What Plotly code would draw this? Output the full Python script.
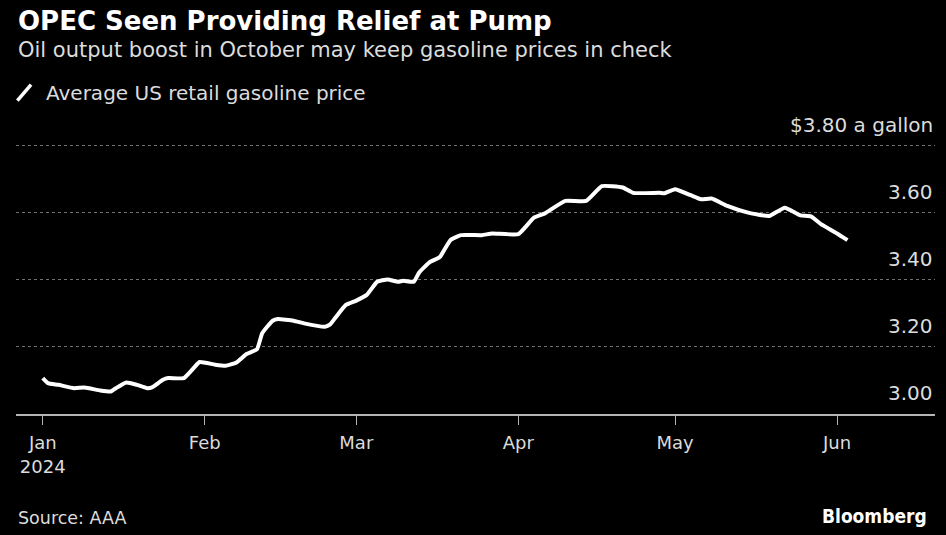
import plotly.graph_objects as go

# =========================
# DATA
# =========================

dates = [
    "2024-01-01", "2024-01-02", "2024-01-04", "2024-01-07", "2024-01-09",
    "2024-01-12", "2024-01-14", "2024-01-15", "2024-01-17", "2024-01-19",
    "2024-01-21", "2024-01-22", "2024-01-24", "2024-01-25", "2024-01-28",
    "2024-01-30", "2024-01-31", "2024-02-03", "2024-02-05", "2024-02-07",
    "2024-02-09", "2024-02-11", "2024-02-12", "2024-02-14", "2024-02-15",
    "2024-02-18", "2024-02-20", "2024-02-24", "2024-02-25", "2024-02-26",
    "2024-02-28", "2024-03-01", "2024-03-03", "2024-03-05", "2024-03-07",
    "2024-03-09", "2024-03-10", "2024-03-12", "2024-03-13", "2024-03-15",
    "2024-03-17", "2024-03-19", "2024-03-21", "2024-03-25", "2024-03-27",
    "2024-04-01", "2024-04-04", "2024-04-06", "2024-04-10", "2024-04-14",
    "2024-04-17", "2024-04-21", "2024-04-23", "2024-04-28", "2024-04-29",
    "2024-05-01", "2024-05-04", "2024-05-06", "2024-05-08", "2024-05-11",
    "2024-05-15", "2024-05-19", "2024-05-22", "2024-05-25", "2024-05-27",
    "2024-05-29", "2024-06-01", "2024-06-03",
]

gas_price = [
    3.107, 3.092, 3.087, 3.077, 3.079,
    3.070, 3.067, 3.077, 3.094, 3.087,
    3.077, 3.080, 3.102, 3.107, 3.107,
    3.139, 3.155, 3.147, 3.144, 3.153,
    3.179, 3.193, 3.241, 3.278, 3.283,
    3.278, 3.270, 3.260, 3.267, 3.287,
    3.325, 3.338, 3.355, 3.394, 3.401,
    3.394, 3.397, 3.394, 3.421, 3.452,
    3.468, 3.518, 3.533, 3.533, 3.538,
    3.536, 3.585, 3.597, 3.635, 3.635,
    3.679, 3.675, 3.659, 3.659, 3.658,
    3.670, 3.652, 3.640, 3.642, 3.620,
    3.600, 3.590, 3.615, 3.592, 3.589,
    3.565, 3.538, 3.518,
]

month_ticks = ["2024-01-01", "2024-02-01", "2024-03-01", "2024-04-01", "2024-05-01", "2024-06-01"]
month_labels = ["Jan<br>2024", "Feb", "Mar", "Apr", "May", "Jun"]

price_ticks = [3.0, 3.2, 3.4, 3.6, 3.8]
price_labels = ["3.00", "3.20", "3.40", "3.60", "$3.80 a gallon"]

# =========================
# THEME
# =========================

BG = "#000000"
TEXT = "#dcdcdc"
GRID = "#707070"
AXIS = "#b4b4b4"
FONT = "DejaVu Sans, Arial, sans-serif"

# =========================
# FIGURE
# =========================

fig = go.Figure()

fig.add_trace(
    go.Scatter(
        x=dates,
        y=gas_price,
        mode="lines",
        name="Average US retail gasoline price",
        line=dict(color="#ffffff", width=4, shape="spline", smoothing=0.4),
        showlegend=False,
    )
)

fig.update_layout(
    width=946,
    height=535,
    paper_bgcolor=BG,
    plot_bgcolor=BG,
    font=dict(family=FONT, color=TEXT, size=18),
    margin=dict(l=16, r=11, t=111.5, b=120.7),
    xaxis=dict(
        range=["2023-12-26 21:00", "2024-06-19 18:00"],
        tickvals=month_ticks,
        ticktext=month_labels,
        showgrid=False,
        showline=True,
        linecolor=AXIS,
        linewidth=1.5,
        ticks="outside",
        ticklen=9,
        tickwidth=1,
        tickcolor=AXIS,
        ticklabelstandoff=3,
        tickfont=dict(size=18, color=TEXT),
        zeroline=False,
    ),
    yaxis=dict(
        range=[3.0, 3.9],
        side="right",
        tickvals=price_ticks,
        showticklabels=False,
        ticks="",
        showgrid=True,
        gridcolor=GRID,
        griddash="dot",
        gridwidth=1,
        zeroline=False,
        showline=False,
    ),
)

# y labels sit above their gridlines at the right edge
for value, label in zip(price_ticks, price_labels):
    fig.add_annotation(
        text=label,
        xref="paper", yref="y", x=1.0, y=value,
        xanchor="right", yanchor="middle", yshift=21,
        showarrow=False,
        font=dict(size=20, color=TEXT),
    )

# titles, legend key and footer
fig.add_annotation(
    text="<b>OPEC Seen Providing Relief at Pump</b>",
    xref="paper", yref="paper", x=0, y=1.3025,
    xanchor="left", yanchor="middle", showarrow=False,
    font=dict(size=26, color="#ffffff"),
)
fig.add_annotation(
    text="Oil output boost in October may keep gasoline prices in check",
    xref="paper", yref="paper", x=0, y=1.2064,
    xanchor="left", yanchor="middle", showarrow=False,
    font=dict(size=21, color=TEXT),
)
fig.add_shape(
    type="line", xref="paper", yref="paper",
    x0=0.0015, y0=1.038, x1=0.0164, y1=1.0908,
    line=dict(color="#ffffff", width=3.5),
)
fig.add_annotation(
    text="Average US retail gasoline price",
    xref="paper", yref="paper", x=0.0306, y=1.0644,
    xanchor="left", yanchor="middle", showarrow=False,
    font=dict(size=20, color=TEXT),
)
fig.add_annotation(
    text="Source: AAA",
    xref="paper", yref="paper", x=0, y=-0.3448,
    xanchor="left", yanchor="middle", showarrow=False,
    font=dict(size=17.5, color=TEXT),
)
fig.add_annotation(
    text="<b>Bloomberg</b>",
    xref="paper", yref="paper", x=0.9935, y=-0.3392,
    xanchor="right", yanchor="middle", showarrow=False,
    font=dict(size=19, color="#ffffff", family="DejaVu Sans Condensed, Arial, sans-serif"),
)

# the page's default body margin would push the fixed-size figure off the window
fig.write_html(
    "out.html",
    config={"displayModeBar": False},
    post_script="document.body.style.margin='0';",
)
